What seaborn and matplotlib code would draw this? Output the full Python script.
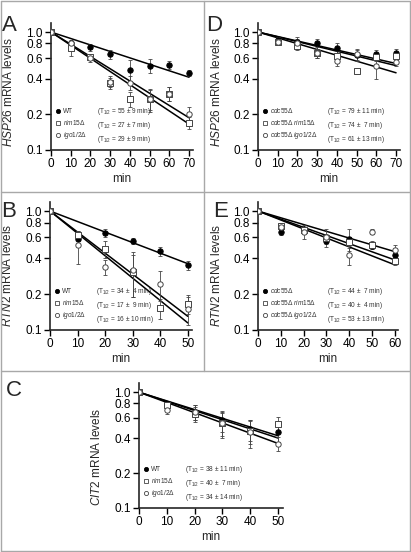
import matplotlib
matplotlib.use("Agg")
import matplotlib.pyplot as plt
import numpy as np
import pandas as pd
import seaborn as sns
from matplotlib.lines import Line2D

sns.set_theme(style="ticks")
plt.rcParams["font.family"] = ["Liberation Sans", "DejaVu Sans"]
plt.rcParams["mathtext.fontset"] = "custom"
plt.rcParams["mathtext.rm"] = "Liberation Sans"
plt.rcParams["mathtext.it"] = "Liberation Sans:italic"

# ---- data ----
t_A = [0, 10, 20, 30, 40, 50, 60, 70]
A_wt = [1.0, 0.80, 0.74, 0.65, 0.48, 0.52, 0.53, 0.45]
A_wt_err = [0, 0.03, 0.05, 0.06, 0.10, 0.07, 0.04, 0.03]
A_rim = [1.0, 0.73, 0.61, 0.37, 0.27, 0.27, 0.30, 0.17]
A_rim_err = [0, 0.10, 0.03, 0.04, 0.04, 0.06, 0.04, 0.02]
A_igo = [1.0, 0.80, 0.60, 0.38, 0.37, 0.27, 0.30, 0.20]
A_igo_err = [0, 0.05, 0.04, 0.04, 0.05, 0.05, 0.04, 0.03]
A_half = [55, 27, 29]
A_half_txt = ["55 ± 9", "27 ± 7", "29 ± 9"]

t_D = [0, 10, 20, 30, 40, 50, 60, 70]
D_wt = [1.0, 0.86, 0.82, 0.80, 0.73, 0.64, 0.65, 0.66]
D_wt_err = [0, 0.04, 0.08, 0.08, 0.08, 0.07, 0.06, 0.06]
D_rim = [1.0, 0.82, 0.76, 0.66, 0.63, 0.47, 0.62, 0.63]
D_rim_err = [0, 0.04, 0.05, 0.06, 0.06, 0.03, 0.05, 0.05]
D_igo = [1.0, 0.83, 0.81, 0.67, 0.57, 0.65, 0.52, 0.56]
D_igo_err = [0, 0.05, 0.06, 0.07, 0.05, 0.07, 0.12, 0.04]
D_half = [79, 74, 61]
D_half_txt = ["79 ± 11", "74 ±  7", "61 ± 13"]

t_B = [0, 10, 20, 30, 40, 50]
B_wt = [1.0, 0.58, 0.65, 0.56, 0.46, 0.35]
B_wt_err = [0, 0.05, 0.05, 0.03, 0.04, 0.03]
B_rim = [1.0, 0.63, 0.48, 0.31, 0.153, 0.166]
B_rim_err = [0, 0.05, 0.08, 0.12, 0.03, 0.03]
B_igo = [1.0, 0.52, 0.34, 0.32, 0.245, 0.15]
B_igo_err = [0, 0.16, 0.05, 0.13, 0.07, 0.04]
B_half = [34, 17, 16]
B_half_txt = ["34 ±  4", "17 ±  9", "16 ± 10"]

t_E = [0, 10, 20, 30, 40, 50, 60]
E_wt = [1.0, 0.67, 0.71, 0.56, 0.58, 0.51, 0.43]
E_wt_err = [0, 0.04, 0.05, 0.03, 0.12, 0.03, 0.04]
E_rim = [1.0, 0.75, 0.69, 0.59, 0.55, 0.52, 0.38]
E_rim_err = [0, 0.04, 0.05, 0.05, 0.06, 0.04, 0.03]
E_igo = [1.0, 0.73, 0.66, 0.60, 0.43, 0.67, 0.47]
E_igo_err = [0, 0.05, 0.08, 0.10, 0.08, 0.03, 0.05]
E_half = [44, 40, 53]
E_half_txt = ["44 ±  7", "40 ±  4", "53 ± 13"]

t_C = [0, 10, 20, 30, 40, 50]
C_wt = [1.0, 0.78, 0.68, 0.57, 0.48, 0.45]
C_wt_err = [0, 0.05, 0.10, 0.12, 0.10, 0.08]
C_rim = [1.0, 0.77, 0.65, 0.54, 0.46, 0.53]
C_rim_err = [0, 0.06, 0.10, 0.12, 0.10, 0.08]
C_igo = [1.0, 0.70, 0.67, 0.54, 0.45, 0.36]
C_igo_err = [0, 0.05, 0.10, 0.14, 0.12, 0.05]
C_half = [38, 40, 34]
C_half_txt = ["38 ± 11", "40 ±  7", "34 ± 14"]

names_wt = ["WT", r"$\it{rim15}\Delta$", r"$\it{igo1/2}\Delta$"]
names_cdc = [r"$\it{cdc55}\Delta$", r"$\it{cdc55}\Delta\ \it{rim15}\Delta$", r"$\it{cdc55}\Delta\ \it{igo1/2}\Delta$"]
y_ticks = [0.1, 0.2, 0.4, 0.6, 0.8, 1.0]

styles = [
    dict(marker="o", facecolor="black", edgecolor="black"),
    dict(marker="s", facecolor="white", edgecolor="#444444"),
    dict(marker="o", facecolor="white", edgecolor="#444444"),
]


def panel(ax, t, series, errs, halves, half_txt, names, gene, xmax, xticks):
    t = np.array(t, dtype=float)
    tt = np.linspace(0, t[-1], 50)
    for h in halves:
        fit = pd.DataFrame({"t": tt, "y": 2.0 ** (-tt / h)})
        sns.lineplot(data=fit, x="t", y="y", color="black", lw=1.1, ax=ax, legend=False)
    for y, e, st in zip(series, errs, styles):
        ax.errorbar(t, y, yerr=e, fmt="none", ecolor="#444444", elinewidth=0.6, capsize=1.6, capthick=0.6, zorder=3)
        df = pd.DataFrame({"t": t, "y": y})
        sns.scatterplot(data=df, x="t", y="y", marker=st["marker"], s=15, color=st["facecolor"],
                        edgecolor=st["edgecolor"], linewidth=0.7, ax=ax, zorder=4, legend=False)
    ax.set_yscale("log")
    ax.set_ylim(0.1, 1.2)
    ax.set_xlim(0, xmax)
    ax.set_yticks(y_ticks)
    ax.set_yticklabels([f"{v:.1f}" for v in y_ticks])
    ax.minorticks_off()
    ax.set_xticks(xticks)
    ax.tick_params(direction="out", length=4, width=1.0, labelsize=8.5, pad=2, colors="black")
    for s in ("top", "right"):
        ax.spines[s].set_visible(False)
    for s in ("left", "bottom"):
        ax.spines[s].set_linewidth(1.2)
    ax.set_xlabel("min", fontsize=8.5, labelpad=2)
    ax.set_ylabel(r"$\it{" + gene + r"}$ mRNA levels", fontsize=8.5, ha="left")
    ax.yaxis.set_label_coords(-0.25, 0.02)

    handles = []
    labels = []
    for st, nm in zip(styles, names):
        handles.append(Line2D([], [], linestyle="none", marker=st["marker"], markersize=3,
                              markerfacecolor=st["facecolor"], markeredgecolor=st["edgecolor"], markeredgewidth=0.6))
        labels.append(nm)
    for ht in half_txt:
        handles.append(Line2D([], [], linestyle="none"))
        labels.append(r"(T$_{1/2}$ = " + ht + " min)")
    ax.legend(handles, labels, ncol=2, loc="lower left", bbox_to_anchor=(0.0, 0.0), frameon=False,
              fontsize=4.7, handlelength=0.8, handletextpad=0.4, columnspacing=0.2,
              labelspacing=0.5, borderaxespad=0.3, labelcolor="#333333")


fig = plt.figure(figsize=(4.11, 5.52), dpi=100)
W, H = 411.0, 552.0

axA = fig.add_axes([51 / W, 1 - 150 / H, 142 / W, 127.3 / H])
axD = fig.add_axes([258 / W, 1 - 150 / H, 142 / W, 127.3 / H])
axB = fig.add_axes([50 / W, 1 - 330 / H, 142 / W, 128.4 / H])
axE = fig.add_axes([258 / W, 1 - 330 / H, 140 / W, 128.4 / H])
axC = fig.add_axes([139 / W, 1 - 508 / H, 144 / W, 125 / H])

panel(axA, t_A, [A_wt, A_rim, A_igo], [A_wt_err, A_rim_err, A_igo_err], A_half, A_half_txt, names_wt,
      "HSP26", 72, [0, 10, 20, 30, 40, 50, 60, 70])
panel(axD, t_D, [D_wt, D_rim, D_igo], [D_wt_err, D_rim_err, D_igo_err], D_half, D_half_txt, names_cdc,
      "HSP26", 72, [0, 10, 20, 30, 40, 50, 60, 70])
panel(axB, t_B, [B_wt, B_rim, B_igo], [B_wt_err, B_rim_err, B_igo_err], B_half, B_half_txt, names_wt,
      "RTN2", 51.5, [0, 10, 20, 30, 40, 50])
panel(axE, t_E, [E_wt, E_rim, E_igo], [E_wt_err, E_rim_err, E_igo_err], E_half, E_half_txt, names_cdc,
      "RTN2", 61.5, [0, 10, 20, 30, 40, 50, 60])
panel(axC, t_C, [C_wt, C_rim, C_igo], [C_wt_err, C_rim_err, C_igo_err], C_half, C_half_txt, names_wt,
      "CIT2", 51.8, [0, 10, 20, 30, 40, 50])

# panel letters
for letter, x, y in [("A", 2, 31), ("D", 206, 31), ("B", 1, 217), ("E", 213, 217), ("C", 6, 396)]:
    fig.text(x / W, 1 - y / H, letter, fontsize=16, ha="left", va="baseline")

# panel frame lines
grey = "#a8a8a8"
frame = [
    ([0.5, 410], [1, 1]), ([0.5, 410], [192, 192]), ([0.5, 410], [371, 371]), ([0.5, 410], [551, 551]),
    ([0.5, 0.5], [1, 551]), ([410, 410], [1, 551]), ([203.5, 203.5], [1, 371]),
]
for xs, ys in frame:
    fig.add_artist(Line2D([x / W for x in xs], [1 - y / H for y in ys], color=grey, lw=1.0))

fig.savefig("out.png", dpi=100)
